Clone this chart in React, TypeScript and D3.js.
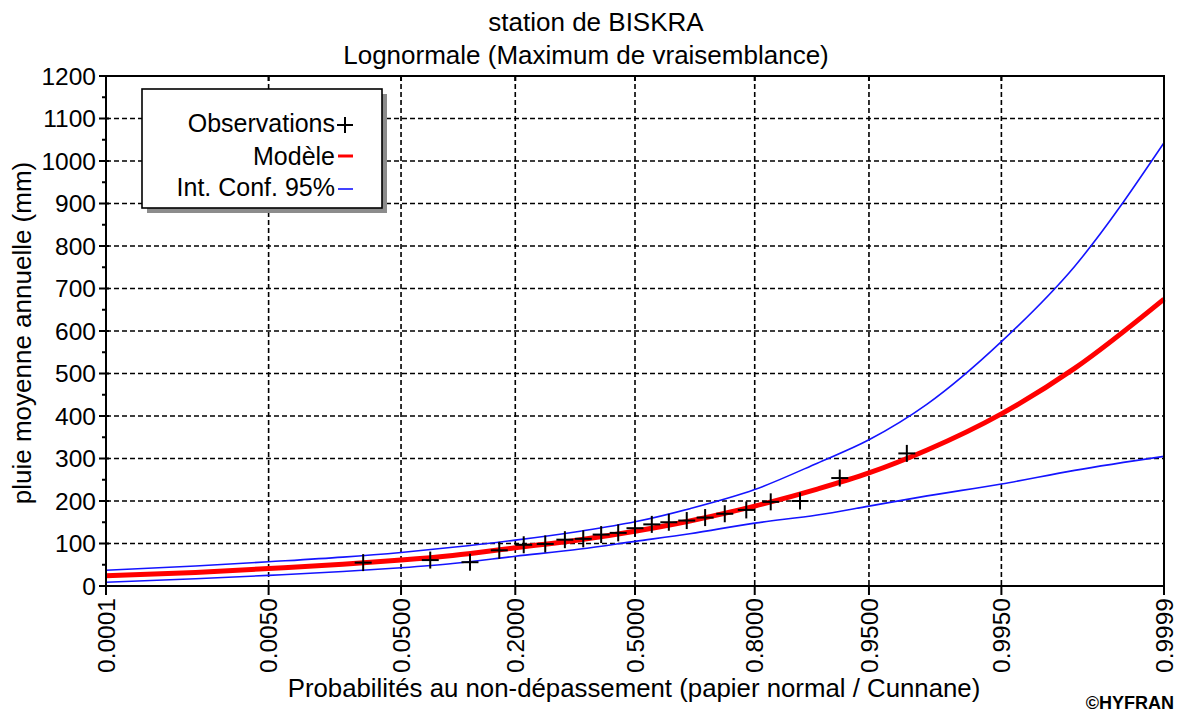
import React from 'react';
import * as d3 from 'd3';

// x ticks (normal probability paper)
const probTicks = [0.0001, 0.005, 0.05, 0.2, 0.5, 0.8, 0.95, 0.995, 0.9999];
const probLabels = ['0.0001', '0.0050', '0.0500', '0.2000', '0.5000', '0.8000', '0.9500', '0.9950', '0.9999'];
const yTicks = [0, 100, 200, 300, 400, 500, 600, 700, 800, 900, 1000, 1100, 1200];

// observations (Cunnane positions)
const obsProb = [0.028, 0.075, 0.123, 0.170, 0.217, 0.264, 0.311, 0.358, 0.406, 0.453, 0.5,
  0.547, 0.594, 0.642, 0.689, 0.736, 0.783, 0.830, 0.877, 0.925, 0.972];
const obsValue = [55, 61, 56, 84, 97, 99, 109, 111, 121, 125, 136,
  145, 150, 154, 161, 170, 179, 198, 200, 254, 312];

// fitted model and 95% band
const curveProb = [0.0001, 0.001, 0.005, 0.02, 0.05, 0.1, 0.2, 0.35, 0.5, 0.65, 0.8, 0.9, 0.95, 0.98, 0.995, 0.999, 0.9999];
const modelValue = [24, 32, 41, 51, 61, 72, 90, 109, 129, 153, 188, 228, 266, 320, 405, 512, 675];
const upperValue = [37, 47, 57, 68, 79, 91, 108, 129, 151, 182, 227, 289, 344, 428, 575, 752, 1043];
const lowerValue = [9, 17, 25, 34, 43, 53, 70, 87, 105, 123, 148, 167, 188, 212, 240, 272, 305];

// inverse normal cdf (Acklam)
function probit(p: number): number {
  const a = [-39.69683028665376, 220.9460984245205, -275.9285104469687, 138.357751867269, -30.66479806614716, 2.506628277459239];
  const b = [-54.47609879822406, 161.5858368580409, -155.6989798598866, 66.80131188771972, -13.28068155288572];
  const c = [-0.007784894002430293, -0.3223964580411365, -2.400758277161838, -2.549671348283172, 4.374664141464968, 2.938163982698783];
  const d = [0.007784695709041462, 0.3224671290700398, 2.445134137142996, 3.754408661907416];
  const plow = 0.02425;
  if (p < plow) {
    const q = Math.sqrt(-2 * Math.log(p));
    return (((((c[0] * q + c[1]) * q + c[2]) * q + c[3]) * q + c[4]) * q + c[5]) /
      ((((d[0] * q + d[1]) * q + d[2]) * q + d[3]) * q + 1);
  }
  if (p > 1 - plow) {
    const q = Math.sqrt(-2 * Math.log(1 - p));
    return -(((((c[0] * q + c[1]) * q + c[2]) * q + c[3]) * q + c[4]) * q + c[5]) /
      ((((d[0] * q + d[1]) * q + d[2]) * q + d[3]) * q + 1);
  }
  const q = p - 0.5;
  const r = q * q;
  return (((((a[0] * r + a[1]) * r + a[2]) * r + a[3]) * r + a[4]) * r + a[5]) * q /
    (((((b[0] * r + b[1]) * r + b[2]) * r + b[3]) * r + b[4]) * r + 1);
}

const W = 1182;
const H = 713;
const left = 106;
const right = 1164;
const top = 76;
const bottom = 586;
const FONT = '"Liberation Sans", Arial, sans-serif';

export default function App() {
  const zScale = d3.scaleLinear().domain([probit(0.0001), probit(0.9999)]).range([left, right]);
  const x = (p: number) => zScale(probit(p));
  const y = d3.scaleLinear().domain([0, 1200]).range([bottom, top]);

  const line = d3.line<number>()
    .x((_, i) => x(curveProb[i]))
    .curve(d3.curveMonotoneX);

  const path = (vals: number[]) => line.y((v) => y(v))(vals) as string;

  const minor = d3.range(50, 1200, 100);
  const dash = '5,3';

  return (
    <div style={{ position: 'absolute', left: 0, top: 0 }}>
      <svg width={W} height={H} style={{ display: 'block', background: '#fff' }} fontFamily={FONT}>
        <rect x={0} y={0} width={W} height={H} fill="#fff" />
        {/* titles */}
        <text x={596} y={31} textAnchor="middle" fontSize={26} fill="#000">station de BISKRA</text>
        <text x={586} y={64} textAnchor="middle" fontSize={26} fill="#000">Lognormale (Maximum de vraisemblance)</text>

        {/* grid */}
        <g stroke="#000" strokeWidth={1.6} strokeDasharray={dash}>
          {yTicks.slice(1, -1).map((t) => (
            <line key={'h' + t} x1={left} x2={right} y1={y(t)} y2={y(t)} />
          ))}
          {probTicks.slice(1, -1).map((p) => (
            <line key={'v' + p} x1={x(p)} x2={x(p)} y1={top} y2={bottom} />
          ))}
        </g>

        {/* confidence band and model */}
        <path d={path(upperValue)} fill="none" stroke="#1414ff" strokeWidth={1.6} />
        <path d={path(lowerValue)} fill="none" stroke="#1414ff" strokeWidth={1.6} />
        <path d={path(modelValue)} fill="none" stroke="#ff0000" strokeWidth={5} />

        {/* observations */}
        <g stroke="#000" strokeWidth={2}>
          {obsProb.map((p, i) => {
            const cx = x(p);
            const cy = y(obsValue[i]);
            return (
              <g key={'o' + i}>
                <line x1={cx - 8.5} x2={cx + 8.5} y1={cy} y2={cy} />
                <line x1={cx} x2={cx} y1={cy - 8.5} y2={cy + 8.5} />
              </g>
            );
          })}
        </g>

        {/* frame */}
        <rect x={left} y={top} width={right - left} height={bottom - top} fill="none" stroke="#000" strokeWidth={2} />

        {/* axis ticks */}
        <g stroke="#000" strokeWidth={2}>
          {yTicks.map((t) => (
            <line key={'yt' + t} x1={left - 7} x2={left + 3} y1={y(t)} y2={y(t)} />
          ))}
          {minor.map((t) => (
            <line key={'ym' + t} x1={left - 4} x2={left} y1={y(t)} y2={y(t)} />
          ))}
          {probTicks.map((p) => (
            <g key={'xt' + p}>
              <line x1={x(p)} x2={x(p)} y1={bottom} y2={bottom + 9} />
              <line x1={x(p)} x2={x(p)} y1={top} y2={top + 5} />
            </g>
          ))}
        </g>
        {yTicks.map((t) => (
          <text key={'yl' + t} x={96} y={y(t)} dy="0.35em" textAnchor="end" fontSize={24.5} fill="#000">{t}</text>
        ))}
        {probTicks.map((p, i) => (
          <text key={'xl' + p} transform={`translate(${x(p)},598) rotate(-90)`} dy="0.35em" textAnchor="end" fontSize={24.5} fill="#000">
            {probLabels[i]}
          </text>
        ))}

        {/* axis titles */}
        <text transform="translate(31,333) rotate(-90)" textAnchor="middle" fontSize={26} fill="#000">pluie moyenne annuelle (mm)</text>
        <text x={634} y={697} textAnchor="middle" fontSize={25.8} fill="#000">Probabilités au non-dépassement (papier normal / Cunnane)</text>
        <text x={1174} y={709} textAnchor="end" fontSize={18} fontWeight="bold" fill="#000">©HYFRAN</text>

        {/* legend */}
        <rect x={147} y={94} width={240} height={119} fill="#8c8c8c" />
        <rect x={142} y={89} width={240} height={119} fill="#fff" stroke="#000" strokeWidth={1.6} />
        <text x={335} y={132} textAnchor="end" fontSize={25} fill="#000">Observations</text>
        <text x={335} y={165} textAnchor="end" fontSize={25} fill="#000">Modèle</text>
        <text x={335} y={196} textAnchor="end" fontSize={25} fill="#000">Int. Conf. 95%</text>
        <g stroke="#000" strokeWidth={2}>
          <line x1={337} x2={353} y1={125} y2={125} />
          <line x1={345} x2={345} y1={117} y2={133} />
        </g>
        <line x1={338} x2={353} y1={156} y2={156} stroke="#ff0000" strokeWidth={3} />
        <line x1={338} x2={353} y1={189} y2={189} stroke="#1414ff" strokeWidth={1.6} />
      </svg>
    </div>
  );
}
